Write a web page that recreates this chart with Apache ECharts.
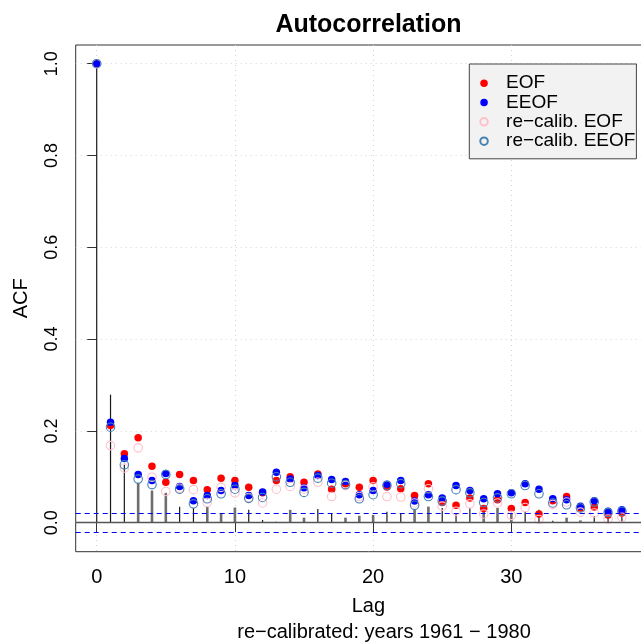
<!DOCTYPE html>
<html>
<head>
<meta charset="utf-8">
<script src="https://cdn.jsdelivr.net/npm/echarts@6/dist/echarts.min.js"></script>
<style>
html,body{margin:0;padding:0;background:#fff;overflow:hidden;width:641px;height:642px;}
#chart{width:700px;height:642px;}
</style>
</head>
<body>
<div id="chart"></div>
<script>
// ---- data ----
const lags = [0,1,2,3,4,5,6,7,8,9,10,11,12,13,14,15,16,17,18,19,20,21,22,23,24,25,26,27,28,29,30,31,32,33,34,35,36,37,38];

const eofACF = [1,0.212,0.150,0.185,0.123,0.088,0.105,0.092,0.072,0.097,0.092,0.077,0.065,0.092,0.100,0.088,0.106,0.073,0.085,0.077,0.092,0.078,0.074,0.059,0.085,0.044,0.038,0.054,0.031,0.050,0.031,0.044,0.019,0.048,0.057,0.032,0.034,0.017,0.021];
const eeofACF = [1,0.219,0.140,0.105,0.092,0.107,0.079,0.048,0.059,0.070,0.081,0.059,0.067,0.110,0.095,0.076,0.103,0.094,0.090,0.061,0.070,0.084,0.092,0.047,0.061,0.054,0.081,0.070,0.052,0.063,0.065,0.085,0.073,0.052,0.050,0.036,0.048,0.025,0.028];
const recalEofACF = [1,0.168,0.119,0.163,0.099,0.068,0.075,0.072,0.044,0.077,0.065,0.055,0.043,0.073,0.079,0.073,0.088,0.057,0.081,0.057,0.078,0.057,0.056,0.043,0.074,0.036,0.025,0.041,0.019,0.043,0.016,0.033,0.007,0.040,0.045,0.023,0.021,0.008,0.012];
const recalEeofACF = [1,0.208,0.126,0.095,0.083,0.105,0.073,0.041,0.052,0.063,0.073,0.053,0.055,0.100,0.088,0.066,0.097,0.086,0.083,0.052,0.061,0.081,0.085,0.038,0.057,0.047,0.072,0.065,0.044,0.054,0.063,0.081,0.063,0.043,0.039,0.032,0.045,0.022,0.025];

// spikes (observed ACF drawn twice: thin black and thicker grey)
const blackSpikes = [1,0.279,0.126,null,null,null,0.035,0.032,null,null,null,0.028,0.006,0.002,null,null,0.030,0.020,null,null,null,0.024,0.020,null,null,0.032,0.021,0.032,null,null,null,0.024,0.028,0.004,null,null,0.014,0.013,0.013];
const greySpikes  = [null,null,null,0.087,0.070,0.065,null,null,0.035,0.021,0.033,null,null,null,0.028,0.011,null,null,0.011,0.015,0.017,null,null,0.030,0.035,null,null,null,0.024,0.032,0.021,null,null,null,0.011,0.005,null,null,null];

const ciBound = 0.0225;
const xTicks = [0,10,20,30];
const yTicks = [0,0.2,0.4,0.6,0.8,1.0];
const seriesNames = ['EOF','EEOF','re\u2212calib. EOF','re\u2212calib. EEOF'];

// ---- build ----
const FONT = 'Liberation Sans, Arial, Helvetica, sans-serif';
function pairs(vals){ const out=[]; lags.forEach((l,i)=>{ if(vals[i]!==null && vals[i]!==undefined) out.push([l, vals[i]]); }); return out; }
function spikeRenderer(color, width){
  return function(params, api){
    const x = api.value(0), y = api.value(1);
    const p0 = api.coord([x, 0]), p1 = api.coord([x, y]);
    return {type:'line', shape:{x1:p0[0], y1:p0[1], x2:p1[0], y2:p1[1]}, style:{stroke:color, lineWidth:width}};
  };
}

const chart = echarts.init(document.getElementById('chart'), null, {renderer:'canvas'});
const option = {
  backgroundColor:'#ffffff',
  animation:false,
  title:[
    {text:'Autocorrelation', left:363.5, top:8, textAlign:'center',
     textStyle:{fontFamily:FONT, fontSize:25, fontWeight:'bold', color:'#000'}},
    {text:'re\u2212calibrated: years 1961 \u2212 1980', left:379, top:617, textAlign:'center',
     textStyle:{fontFamily:FONT, fontSize:20, fontWeight:'normal', color:'#000'}}
  ],
  grid:{left:75.7, top:45, width:585.3, height:506.7, show:true, borderColor:'#333', borderWidth:1, backgroundColor:'transparent', containLabel:false},
  legend:{
    orient:'vertical', left:469.3, top:64,
    data:seriesNames,
    itemWidth:10, itemHeight:7.5, itemGap:0,
    padding:[9.6,1,8,10],
    backgroundColor:'#F2F2F2', borderColor:'#444', borderWidth:1,
    textStyle:{fontFamily:FONT, fontSize:19, color:'#000', lineHeight:19.3, padding:[0,0,0,12]},
    selectedMode:false
  },
  xAxis:{
    type:'value', min:-1.52, max:40.83,
    name:'Lag', nameLocation:'middle', nameGap:45,
    nameTextStyle:{fontFamily:FONT, fontSize:20, color:'#000'},
    axisLine:{show:false},
    axisTick:{show:true, length:9.5, customValues:xTicks, lineStyle:{color:'#333', width:1}},
    axisLabel:{show:true, customValues:xTicks, fontFamily:FONT, fontSize:20, color:'#000', margin:16,
               formatter:function(v){return String(v);}},
    splitLine:{show:true, lineStyle:{color:'#d3d3d3', type:[1,4], width:1}}
  },
  yAxis:{
    type:'value', min:-0.0632, max:1.0407,
    name:'ACF', nameLocation:'middle', nameGap:44, nameRotate:90,
    nameTextStyle:{fontFamily:FONT, fontSize:20, color:'#000'},
    axisLine:{show:false},
    axisTick:{show:true, length:9.5, customValues:yTicks, lineStyle:{color:'#333', width:1}},
    axisLabel:{show:true, customValues:yTicks, rotate:90, fontFamily:FONT, fontSize:18, color:'#000', margin:15,
               formatter:function(v){return v.toFixed(1);}},
    splitLine:{show:true, lineStyle:{color:'#d3d3d3', type:[1,4], width:1}}
  },
  series:[
    {type:'custom', name:'acfBlack', data:pairs(blackSpikes), renderItem:spikeRenderer('#1a1a1a',1.2), silent:true, z:2,
     markLine:{silent:true, symbol:'none', label:{show:false},
       lineStyle:{color:'#555555', type:'solid', width:1.3},
       data:[{yAxis:0}]}},
    {type:'custom', name:'acfGrey', data:pairs(greySpikes), renderItem:spikeRenderer('#6e6e6e',2.6), silent:true, z:2,
     markLine:{silent:true, symbol:'none', label:{show:false},
       lineStyle:{color:'#0000ff', type:[5,4], width:1.2},
       data:[{yAxis:ciBound},{yAxis:-ciBound}]}},
    {type:'scatter', name:seriesNames[0], data:pairs(eofACF), symbol:'circle', symbolSize:7.5,
     itemStyle:{color:'#ff0000', borderWidth:0, opacity:1}, z:3},
    {type:'scatter', name:seriesNames[1], data:pairs(eeofACF), symbol:'circle', symbolSize:7.5,
     itemStyle:{color:'#0000ff', borderWidth:0, opacity:1}, z:3},
    {type:'scatter', name:seriesNames[2], data:pairs(recalEofACF), symbol:'circle', symbolSize:8.5,
     itemStyle:{color:'rgba(0,0,0,0)', borderColor:'#ffc0cb', borderWidth:1.1, opacity:1}, z:4},
    {type:'scatter', name:seriesNames[3], data:pairs(recalEeofACF), symbol:'circle', symbolSize:8.5,
     itemStyle:{color:'rgba(0,0,0,0)', borderColor:'#4682b4', borderWidth:1.1, opacity:1}, z:4}
  ]
};
chart.setOption(option);
</script>
</body>
</html>
